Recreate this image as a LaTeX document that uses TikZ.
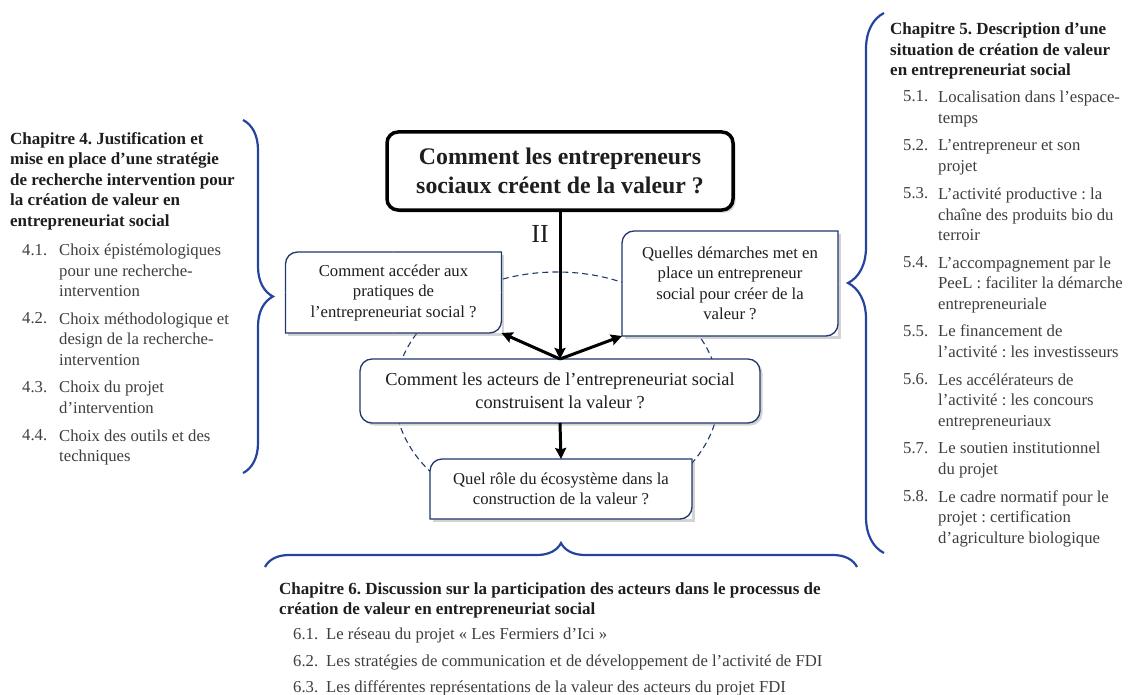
\documentclass[tikz,border=0pt]{standalone}
\usepackage{fontspec}
\setmainfont{Liberation Serif}
\usepackage{tikz}
\usetikzlibrary{arrows.meta,shadows,decorations.pathreplacing}
\definecolor{navy}{RGB}{31,56,110}
\definecolor{bracecol}{RGB}{36,68,160}
\definecolor{ink}{RGB}{30,30,30}
\definecolor{grey}{RGB}{62,62,62}
\frenchspacing
\tikzset{
  >={Stealth[length=11pt,width=11pt,inset=1.5pt]},
  qbox/.style={fill=white,align=center,inner sep=0pt,outer sep=0pt,
    font=\fontsize{16.7}{20.5}\selectfont,text=ink,
    drop shadow={opacity=0.35,shadow xshift=2.5pt,shadow yshift=-2.5pt}},
  qline/.style={draw=navy,line width=1.3pt},
  flow/.style={->,line width=3pt,draw=black},
  chap/.style={anchor=north west,align=left,inner sep=0pt,
    font=\fontsize{17}{20.5}\selectfont\bfseries,text=ink},
  item/.style={anchor=north west,align=left,inner sep=0pt,
    font=\fontsize{16.7}{20.5}\selectfont,text=grey},
  num/.style={anchor=base west,inner sep=0pt,font=\fontsize{16.7}{20.5}\selectfont,text=grey},
  curly/.style={decorate,decoration={brace,amplitude=#1},draw=bracecol,line width=2.2pt},
}
% frame with one radius per corner: nw, ne, se, sw
\newcommand{\qframe}[5]{%
  \draw[qline,rounded corners=#2] (#1.west) -- (#1.north west) -- (#1.north);
  \draw[qline,rounded corners=#3] (#1.north) -- (#1.north east) -- (#1.east);
  \draw[qline,rounded corners=#4] (#1.east) -- (#1.south east) -- (#1.south);
  \draw[qline,rounded corners=#5] (#1.south) -- (#1.south west) -- (#1.west);
}

\begin{document}
\begin{tikzpicture}[x=1pt,y=-1pt]
  \useasboundingbox (0,0) rectangle (1129,695);

  \draw[navy,line width=1.1pt,dash pattern=on 6pt off 4pt] (557,395) ellipse [x radius=162,y radius=123];

  % questions
  \node[qbox,draw=black,line width=3.5pt,rounded corners=11pt,minimum width=346pt,minimum height=78pt,
    font=\fontsize{23.8}{29}\selectfont\bfseries] (q0) at (560,171) {Comment les entrepreneurs\\sociaux créent de la valeur ?};
  \node[qbox,minimum width=216pt,minimum height=81pt] (qa) at (393.5,292.5)
    {Comment accéder aux\\pratiques de\\l’entrepreneuriat social ?};
  \node[qbox,minimum width=216pt,minimum height=105pt] (qb) at (730,283.5)
    {Quelles démarches met en\\place un entrepreneur\\social pour créer de la\\valeur ?};
  \node[qbox,qline,rounded corners=12pt,minimum width=400pt,minimum height=64pt,
    font=\fontsize{18.3}{23.5}\selectfont] (qc) at (560,391)
    {Comment les acteurs de l’entrepreneuriat social\\construisent la valeur ?};
  \node[qbox,minimum width=262pt,minimum height=60pt] (qd) at (561,489)
    {Quel rôle du écosystème dans la\\construction de la valeur ?};
  \qframe{qa}{12pt}{0.1pt}{12pt}{0.1pt}
  \qframe{qb}{12pt}{0.1pt}{12pt}{0.1pt}
  \qframe{qd}{12pt}{0.1pt}{12pt}{0.1pt}

  \node[font=\fontsize{26}{26}\selectfont,text=ink] (lvl) at (540,234) {II};
  \coordinate (hub) at (qc.north);
  \draw[flow] (q0.south) -- (hub);
  \draw[flow] (hub) -- (qa.south east);
  \draw[flow] (hub) -- (qb.south west);
  \draw[flow] (qc.south) -- (qd.north);

  % braces
  \draw[curly=30pt] (243,120) -- (243,473);
  \draw[curly=36pt] (884,553) -- (884,13);
  \draw[curly=24pt] (265,567) -- (857,567);

  % chapitre 4
  \node[chap] (ch4) at (10,132) {Chapitre 4. Justification et\\mise en place d’une stratégie\\de recherche intervention pour\\la création de valeur en\\entrepreneuriat social};
  \foreach \n/\y/\t [count=\i] in {
    4.1./255/{Choix épistémologiques\\pour une recherche-\\intervention},
    4.2./323.5/{Choix méthodologique et\\design de la recherche-\\intervention},
    4.3./392/{Choix du projet\\d’intervention},
    4.4./440.5/{Choix des outils et des\\techniques}}
  {
    \node[num] (a\i) at (22,\y) {\n};
    \node[item] (b\i) at (59,{\y-11}) {\t};
  }

  % chapitre 5
  \node[chap] (ch5) at (890,23) {Chapitre 5. Description d’une\\situation de création de valeur\\en entrepreneuriat social};
  \foreach \n/\y/\t [count=\i] in {
    5.1./102/{Localisation dans l’espace-\\temps},
    5.2./150.5/{L’entrepreneur et son\\projet},
    5.3./199/{L’activité productive : la\\chaîne des produits bio du\\terroir},
    5.4./267.5/{L’accompagnement par le\\PeeL : faciliter la démarche\\entrepreneuriale},
    5.5./336/{Le financement de\\l’activité : les investisseurs},
    5.6./384.5/{Les accélérateurs de\\l’activité : les concours\\entrepreneuriaux},
    5.7./453/{Le soutien institutionnel\\du projet},
    5.8./501.5/{Le cadre normatif pour le\\projet : certification\\d’agriculture biologique}}
  {
    \node[num] (c\i) at (903,\y) {\n};
    \node[item] (d\i) at (938,{\y-11}) {\t};
  }

  % chapitre 6
  \node[chap] (ch6) at (279,582) {Chapitre 6. Discussion sur la participation des acteurs dans le processus de\\création de valeur en entrepreneuriat social};
  \foreach \n/\y/\t [count=\i] in {
    6.1./639/{Le réseau du projet « Les Fermiers d’Ici »},
    6.2./666/{Les stratégies de communication et de développement de l’activité de FDI},
    6.3./692/{Les différentes représentations de la valeur des acteurs du projet FDI}}
  {
    \node[num] (e\i) at (293,\y) {\n};
    \node[item] (f\i) at (326,{\y-11}) {\t};
  }
\end{tikzpicture}
\end{document}
